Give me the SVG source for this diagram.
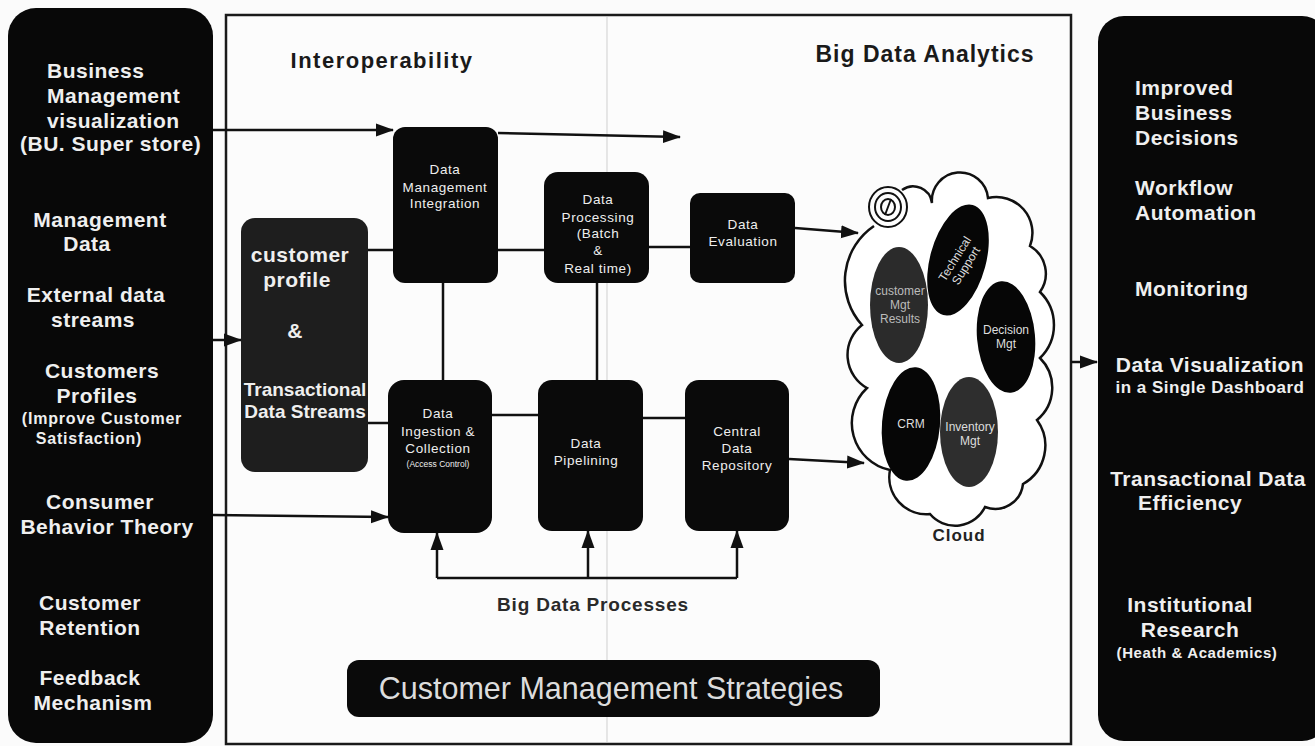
<svg xmlns="http://www.w3.org/2000/svg" width="1315" height="746" viewBox="0 0 1315 746">
<defs>
<style>
.pan{fill:#080808}
.box{fill:#0a0a0a}
.pt{font-family:"Liberation Sans",Arial,sans-serif;font-weight:bold;font-size:21px;fill:#efefef;letter-spacing:0.5px}
.ps{font-family:"Liberation Sans",Arial,sans-serif;font-weight:bold;font-size:16px;fill:#efefef;letter-spacing:0.8px}
.nt{font-family:"Liberation Sans",Arial,sans-serif;font-size:13.5px;fill:#eeeeee;text-anchor:middle;letter-spacing:0.6px}
.et{font-family:"Liberation Sans",Arial,sans-serif;font-size:12px;fill:#dddddd;text-anchor:middle}
.ttl{font-family:"Liberation Sans",Arial,sans-serif;font-weight:bold;fill:#1a1a1a}
.ln{stroke:#111;stroke-width:2.5;fill:none}
.arr{stroke:#111;stroke-width:2.5;fill:none;marker-end:url(#ah)}
.mid{text-anchor:middle}
</style>
<marker id="ah" markerUnits="userSpaceOnUse" markerWidth="18" markerHeight="14" refX="17" refY="7" orient="auto">
<path d="M0,0.5 L18,7 L0,13.5 Z" fill="#111"/>
</marker>
</defs>
<rect x="0" y="0" width="1315" height="746" fill="#fbfbfb"/>

<!-- center frame -->
<g id="frame">
<rect x="226" y="15" width="845" height="729" fill="#fcfcfc" stroke="#1a1a1a" stroke-width="2.5"/>
<line x1="607" y1="17" x2="607" y2="742" stroke="#cfcfcf" stroke-width="1"/>
<text class="ttl" x="382" y="68" style="font-size:22px;letter-spacing:1.5px" text-anchor="middle">Interoperability</text>
<text class="ttl" x="925" y="62" style="font-size:23px;letter-spacing:1px" text-anchor="middle">Big Data Analytics</text>
<text class="ttl" x="593" y="611" style="font-size:19px;letter-spacing:0.8px;fill:#2a2a2a" text-anchor="middle">Big Data Processes</text>
</g>

<!-- left panel -->
<g id="left-panel">
<rect class="pan" x="8" y="8" width="205" height="735" rx="28"/>
<text class="pt" x="47" y="78">Business</text>
<text class="pt" x="47" y="103">Management</text>
<text class="pt" x="47" y="128">visualization</text>
<text class="pt" x="20" y="151">(BU. Super store)</text>
<text class="pt mid" x="100" y="227">Management</text>
<text class="pt mid" x="87" y="251">Data</text>
<text class="pt mid" x="96" y="302">External data</text>
<text class="pt mid" x="93" y="327">streams</text>
<text class="pt mid" x="102" y="378">Customers</text>
<text class="pt mid" x="97" y="403">Profiles</text>
<text class="ps mid" x="102" y="424">(Improve Customer</text>
<text class="ps mid" x="89" y="444">Satisfaction)</text>
<text class="pt mid" x="100" y="509">Consumer</text>
<text class="pt mid" x="107" y="534">Behavior Theory</text>
<text class="pt mid" x="90" y="610">Customer</text>
<text class="pt mid" x="90" y="635">Retention</text>
<text class="pt mid" x="90" y="685">Feedback</text>
<text class="pt mid" x="93" y="710">Mechanism</text>
</g>

<!-- right panel -->
<g id="right-panel">
<rect class="pan" x="1098" y="16" width="230" height="725" rx="26"/>
<text class="pt" x="1135" y="95">Improved</text>
<text class="pt" x="1135" y="120">Business</text>
<text class="pt" x="1135" y="145">Decisions</text>
<text class="pt" x="1135" y="195">Workflow</text>
<text class="pt" x="1135" y="220">Automation</text>
<text class="pt" x="1135" y="296">Monitoring</text>
<text class="pt mid" x="1210" y="372">Data Visualization</text>
<text class="ps mid" x="1210" y="393" style="font-size:17px;letter-spacing:0.5px">in a Single Dashboard</text>
<text class="pt mid" x="1208" y="486">Transactional Data</text>
<text class="pt mid" x="1190" y="510">Efficiency</text>
<text class="pt mid" x="1190" y="612">Institutional</text>
<text class="pt mid" x="1190" y="637">Research</text>
<text class="ps mid" x="1197" y="658" style="font-size:15px;letter-spacing:0.6px">(Heath &amp; Academics)</text>
</g>

<!-- connectors -->
<g id="connectors">
<path class="arr" d="M213 130 L393 130"/>
<path class="arr" d="M498 133 L680 137"/>
<path class="ln" d="M368 250 L393 250"/>
<path class="ln" d="M497 250 L544 250"/>
<path class="ln" d="M649 247 L690 247"/>
<path class="arr" d="M795 228 L858 233"/>
<path class="ln" d="M443 283 L443 380"/>
<path class="ln" d="M597 283 L597 380"/>
<path class="ln" d="M368 423 L388 423"/>
<path class="ln" d="M492 415 L538 415"/>
<path class="ln" d="M643 418 L685 418"/>
<path class="arr" d="M789 459 L864 463"/>
<path class="arr" d="M213 340 L241 340"/>
<path class="arr" d="M213 515 L388 517"/>
<path class="ln" d="M437 578 L737 578"/>
<path class="arr" d="M437 578 L437 533"/>
<path class="arr" d="M588 578 L588 531"/>
<path class="arr" d="M737 578 L737 531"/>
<path class="arr" d="M1071 362 L1097 362"/>
</g>

<!-- nodes -->
<g id="customer-profile">
<rect x="241" y="218" width="127" height="254" rx="14" fill="#1e1e1e"/>
<text class="pt mid" x="300" y="262">customer</text>
<text class="pt mid" x="297" y="287">profile</text>
<text class="pt mid" x="295" y="338">&amp;</text>
<text class="pt mid" x="305" y="396" style="font-size:19px;letter-spacing:0px">Transactional</text>
<text class="pt mid" x="305" y="418" style="font-size:19px;letter-spacing:0px">Data Streams</text>
</g>
<g id="data-management-integration">
<rect class="box" x="393" y="127" width="105" height="156" rx="12"/>
<text class="nt" x="445" y="174">Data</text>
<text class="nt" x="445" y="192">Management</text>
<text class="nt" x="445" y="208">Integration</text>
</g>
<g id="data-processing">
<rect class="box" x="544" y="172" width="105" height="111" rx="14"/>
<text class="nt" x="598" y="204">Data</text>
<text class="nt" x="598" y="222">Processing</text>
<text class="nt" x="598" y="238">(Batch</text>
<text class="nt" x="598" y="255">&amp;</text>
<text class="nt" x="598" y="273">Real time)</text>
</g>
<g id="data-evaluation">
<rect class="box" x="690" y="193" width="105" height="90" rx="10"/>
<text class="nt" x="743" y="229">Data</text>
<text class="nt" x="743" y="246">Evaluation</text>
</g>
<g id="data-ingestion">
<rect class="box" x="388" y="380" width="104" height="153" rx="16"/>
<text class="nt" x="438" y="418">Data</text>
<text class="nt" x="438" y="436">Ingestion &amp;</text>
<text class="nt" x="438" y="453">Collection</text>
<text class="nt" x="438" y="467" style="font-size:8.5px;letter-spacing:0px">(Access Control)</text>
</g>
<g id="data-pipelining">
<rect class="box" x="538" y="380" width="105" height="151" rx="14"/>
<text class="nt" x="586" y="448">Data</text>
<text class="nt" x="586" y="465">Pipelining</text>
</g>
<g id="central-data-repository">
<rect class="box" x="685" y="380" width="104" height="151" rx="14"/>
<text class="nt" x="737" y="436">Central</text>
<text class="nt" x="737" y="453">Data</text>
<text class="nt" x="737" y="470">Repository</text>
</g>

<g id="cloud">
<path d="M902 190 A19 19 0 0 1 932 203 A28 28 0 0 1 988 198 A36 36 0 0 1 1030 246 A32 32 0 0 1 1040 292 A46 46 0 0 1 1040 358 A42 42 0 0 1 1037 420 A44 44 0 0 1 1023 484 A28 28 0 0 1 985 507 A33 33 0 0 1 930 514 A37 37 0 0 1 890 470 A48 48 0 0 1 867 388 A38 38 0 0 1 862 325 A66 66 0 0 1 874 226" fill="#ffffff" stroke="#111" stroke-width="2.5"/>
<g fill="none" stroke="#111" stroke-width="2">
<ellipse cx="888" cy="207" rx="19" ry="20"/>
<ellipse cx="888" cy="207" rx="13" ry="14"/>
<ellipse cx="888" cy="207" rx="7" ry="8"/>
<path d="M885 215 L891 199"/>
</g>
<ellipse cx="958" cy="260" rx="28" ry="57" fill="#060606" transform="rotate(15 958 260)"/>
<text class="et" transform="translate(960 262) rotate(-58)"><tspan x="0" y="-2">Technical</tspan><tspan x="0" y="11">Support</tspan></text>
<ellipse cx="899" cy="305" rx="29" ry="58" fill="#2b2b2b"/>
<text class="et" x="900" y="295" style="fill:#bbbbbb">customer</text>
<text class="et" x="900" y="309" style="fill:#bbbbbb">Mgt</text>
<text class="et" x="900" y="323" style="fill:#bbbbbb">Results</text>
<ellipse cx="1006" cy="337" rx="29" ry="56" fill="#060606" transform="rotate(-5 1006 337)"/>
<text class="et" x="1006" y="334">Decision</text>
<text class="et" x="1006" y="348">Mgt</text>
<ellipse cx="911" cy="424" rx="29" ry="57" fill="#060606" transform="rotate(5 911 424)"/>
<text class="et" x="911" y="428">CRM</text>
<ellipse cx="969" cy="432" rx="29" ry="55" fill="#2e2e2e"/>
<text class="et" x="970" y="431">Inventory</text>
<text class="et" x="970" y="445">Mgt</text>
<text class="ttl" x="959" y="541" style="font-size:17px;letter-spacing:1px;fill:#222" text-anchor="middle">Cloud</text>
</g>

<g id="customer-management-strategies">
<rect class="box" x="347" y="660" width="533" height="57" rx="12"/>
<text x="611" y="699" font-family="'Liberation Sans',Arial,sans-serif" font-size="30.5" fill="#dddddd" text-anchor="middle">Customer Management Strategies</text>
</g>
</svg>
